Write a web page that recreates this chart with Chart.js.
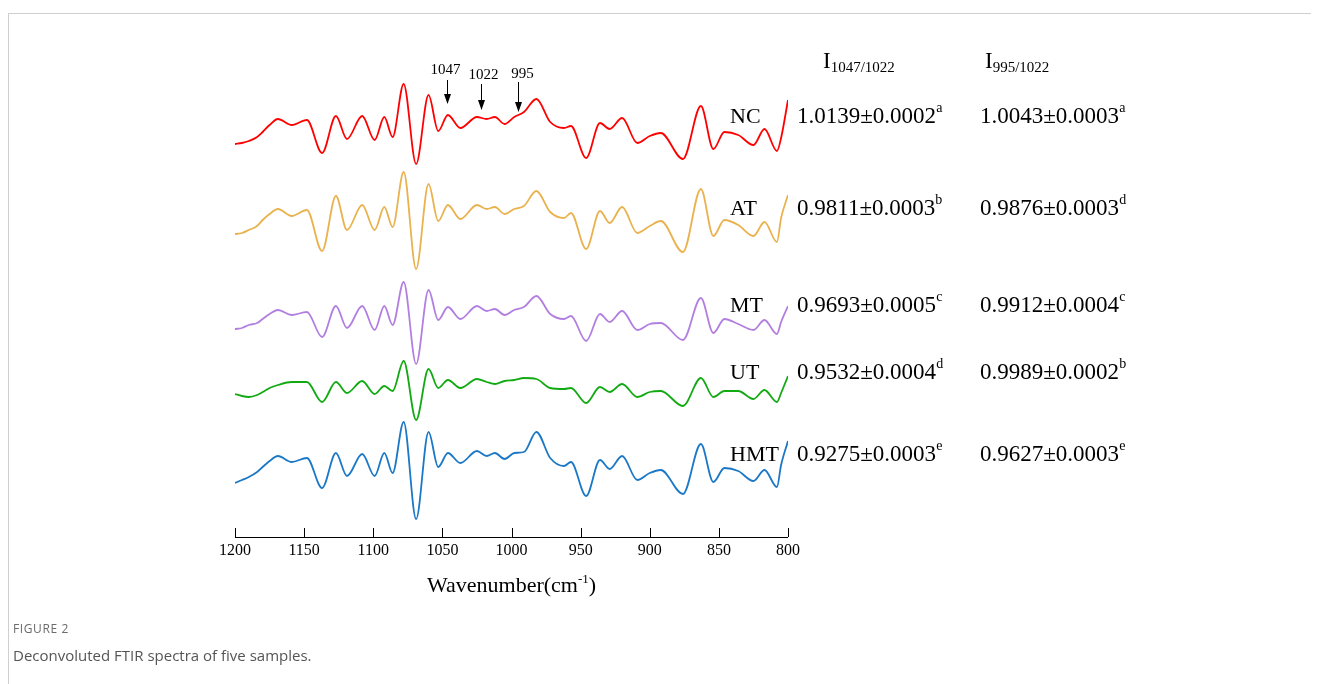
<!DOCTYPE html>
<html>
<head>
<meta charset="utf-8">
<script src="https://cdn.jsdelivr.net/npm/chart.js@4.4.1/dist/chart.umd.min.js"></script>
<style>
  body{margin:0;background:#fff;width:1322px;height:684px;overflow:hidden;position:relative;font-family:"Liberation Serif","Times New Roman",serif;}
  #frame{position:absolute;left:8px;top:13px;width:1302px;height:672px;border-top:1px solid #cfcfcf;border-left:1px solid #cfcfcf;}
  #cv{position:absolute;left:0;top:0;}
  .t{position:absolute;white-space:nowrap;color:#000;line-height:1;}
  .t sup{font-size:14px;line-height:0;position:relative;top:-11px;vertical-align:baseline;}
  .t sub{font-size:15px;line-height:0;position:relative;top:4px;vertical-align:baseline;}
  #axisTitle sup{font-size:13px;top:-9px;}
  .cap1{position:absolute;left:13px;top:620px;font-family:"Open Sans",sans-serif;font-size:12px;letter-spacing:0.6px;color:#6b6b6b;}
  .cap2{position:absolute;left:13px;top:645px;font-family:"Open Sans",sans-serif;font-size:15px;color:#555;}
</style>
</head>
<body>
<div id="frame"></div>
<canvas id="cv" width="1322" height="684"></canvas>
<div id="texts"></div>
<div class="cap1">FIGURE 2</div>
<div class="cap2">Deconvoluted FTIR spectra of five samples.</div>
<script>
/* === DATA === */
const wavenumbers = [1200,1195,1190,1184,1180,1175,1169,1159,1148,1137,1127,1119,1108,1099,1092,1086,1078,1069,1060,1053,1046,1037,1025,1018,1012,1005,998,991,982,972,962,957,946,936,929,920,909,900,892,876,863,854,846,836,825,817,808,805,800];
const samples = ["NC","AT","MT","UT","HMT"];
const colors = ["#ff0000","#e9b24e","#b27fe0","#12aa12","#1a78c6"];
const ncValues  = [3.93,3.94,3.96,4.00,4.05,4.12,4.18, 4.12,4.17,3.84,4.21,3.98,4.21,3.97,4.20,4.00, 4.53,3.73,4.42,4.06,4.22,4.09, 4.20,4.18,4.20,4.13,4.20,4.25,4.38, 4.15,4.09,4.11,3.79,4.14,4.08,4.19, 3.94,4.01,4.04,3.78,4.31,3.88,4.05, 4.02,3.92,4.08,3.86,3.99,4.37];
const atValues  = [3.03,3.04,3.07,3.11,3.17,3.23,3.28, 3.21,3.27,2.86,3.41,3.07,3.32,3.07,3.30,3.10, 3.65,2.68,3.53,3.16,3.32,3.18, 3.32,3.28,3.30,3.23,3.28,3.31,3.46, 3.25,3.19,3.24,2.88,3.26,3.14,3.30, 3.04,3.11,3.16,2.85,3.48,3.01,3.17, 3.12,3.01,3.15,2.95,3.19,3.42];
const mtValues  = [2.08,2.09,2.12,2.14,2.18,2.23,2.27, 2.22,2.25,2.00,2.31,2.09,2.31,2.07,2.31,2.12, 2.55,1.73,2.47,2.17,2.30,2.18, 2.31,2.26,2.28,2.22,2.27,2.30,2.41, 2.23,2.18,2.21,1.96,2.23,2.15,2.26, 2.07,2.13,2.14,1.97,2.39,2.04,2.18, 2.13,2.07,2.17,2.03,2.15,2.31];
const utValues  = [1.43,1.41,1.40,1.42,1.45,1.49,1.52, 1.55,1.55,1.35,1.55,1.44,1.56,1.43,1.51,1.46, 1.76,1.17,1.68,1.49,1.57,1.49, 1.58,1.55,1.53,1.56,1.57,1.59,1.58, 1.49,1.48,1.49,1.34,1.50,1.45,1.53, 1.40,1.45,1.46,1.31,1.59,1.40,1.46, 1.46,1.38,1.47,1.35,1.44,1.61];
const hmtValues = [0.54,0.57,0.60,0.65,0.70,0.76,0.81, 0.75,0.79,0.49,0.84,0.61,0.83,0.61,0.84,0.64, 1.15,0.18,1.05,0.70,0.84,0.74, 0.86,0.81,0.84,0.78,0.84,0.85,1.05, 0.79,0.71,0.75,0.41,0.77,0.68,0.81, 0.57,0.64,0.67,0.43,0.93,0.55,0.69, 0.66,0.56,0.67,0.50,0.72,0.96];
const ratio1047 = ["1.0139±0.0002","0.9811±0.0003","0.9693±0.0005","0.9532±0.0004","0.9275±0.0003"];
const sig1047   = ["a","b","c","d","e"];
const ratio995  = ["1.0043±0.0003","0.9876±0.0003","0.9912±0.0004","0.9989±0.0002","0.9627±0.0003"];
const sig995    = ["a","d","c","b","e"];
const arrowBands = [1047, 1022, 995];
const tickValues = [1200,1150,1100,1050,1000,950,900,850,800];

const allValues = [ncValues, atValues, mtValues, utValues, hmtValues];

/* === TEXT (HTML) === */
const texts = document.getElementById("texts");
function addText(html, x, baseline, size, id){
  const d = document.createElement("div");
  d.className = "t"; d.innerHTML = html;
  d.style.left = x + "px"; d.style.fontSize = size + "px";
  d.style.top = (baseline - 0.8375*size) + "px";
  if(id) d.id = id;
  texts.appendChild(d);
  return d;
}
const rowBase = [123, 215, 312, 379, 461];
samples.forEach((s,i) => {
  addText(s, 730, rowBase[i], 22);
  addText(ratio1047[i] + "<sup>" + sig1047[i] + "</sup>", 797, rowBase[i], 23);
  addText(ratio995[i] + "<sup>" + sig995[i] + "</sup>", 980, rowBase[i], 23);
});
addText("I<sub>1047/1022</sub>", 823, 68, 23);
addText("I<sub>995/1022</sub>", 985, 68, 23);

/* === CHART === */
const axisAndArrows = {
  id: "axisAndArrows",
  afterDraw(chart){
    const ctx = chart.ctx, xs = chart.scales.x, area = chart.chartArea;
    ctx.save();
    ctx.strokeStyle = "#000"; ctx.lineWidth = 1;
    ctx.beginPath();
    ctx.moveTo(xs.getPixelForValue(1200), area.bottom + 0.5);
    ctx.lineTo(xs.getPixelForValue(800), area.bottom + 0.5);
    tickValues.forEach(v => {
      const px = Math.round(xs.getPixelForValue(v)) + 0.5;
      ctx.moveTo(px, area.bottom); ctx.lineTo(px, area.bottom - 9);
    });
    ctx.stroke();

    const tops = [80, 84, 82], tips = [104, 110, 112], labelDx = [-2, 2, 4], labelBase = [74, 79, 78];
    ctx.fillStyle = "#000";
    ctx.font = "15px 'Liberation Serif'";
    ctx.textAlign = "center"; ctx.textBaseline = "alphabetic";
    arrowBands.forEach((b,i) => {
      const px = Math.round(xs.getPixelForValue(b)) + 0.5;
      ctx.beginPath(); ctx.moveTo(px, tops[i]); ctx.lineTo(px, tips[i] - 8); ctx.stroke();
      ctx.beginPath(); ctx.moveTo(px - 3.5, tips[i] - 10); ctx.lineTo(px + 3.5, tips[i] - 10); ctx.lineTo(px, tips[i]); ctx.closePath(); ctx.fill();
      ctx.fillText(String(b), px + labelDx[i], labelBase[i]);
    });
    ctx.restore();
  }
};

new Chart(document.getElementById("cv"), {
  type: "line",
  data: {
    datasets: samples.map((s,i) => ({
      label: s,
      data: wavenumbers.map((w,j) => ({x: w, y: allValues[i][j]})),
      borderColor: colors[i],
      borderWidth: 1.8,
      pointRadius: 0,
      fill: false,
      cubicInterpolationMode: "monotone"
    }))
  },
  options: {
    responsive: false, animation: false, devicePixelRatio: 1,
    layout: {padding: {left: 235, right: 534, top: 37, bottom: 87}},
    plugins: {legend: {display: false}, tooltip: {enabled: false}},
    scales: {
      x: {
        type: "linear", reverse: true, min: 800, max: 1200,
        afterBuildTicks: s => { s.ticks = tickValues.map(v => ({value: v})); },
        afterFit: s => { s.height = 60; },
        ticks: {font: {family: "Liberation Serif", size: 16}, color: "#000", padding: 4, maxRotation: 0, autoSkip: false, callback: v => String(v)},
        grid: {display: false, drawTicks: false},
        border: {display: false}
      },
      y: {display: false, min: 0, max: 5}
    }
  },
  plugins: [axisAndArrows]
});

addText("Wavenumber(cm<sup>-1</sup>)", 427, 592, 22, "axisTitle");
</script>
</body>
</html>
